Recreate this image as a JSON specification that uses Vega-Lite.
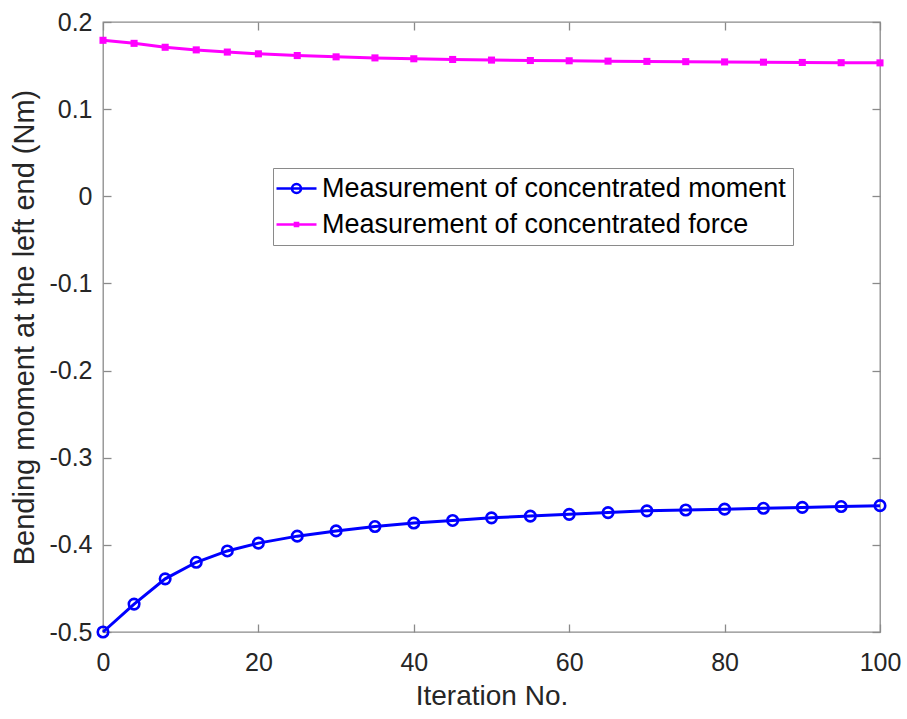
{
  "$schema": "https://vega.github.io/schema/vega-lite/v6.json",
  "width": 777,
  "height": 610,
  "autosize": {"type": "none"},
  "padding": {"left": 103, "top": 22, "right": 27, "bottom": 87},
  "background": "white",
  "config": {
    "view": {"stroke": "#8a8a8a", "strokeWidth": 1.3},
    "font": "Liberation Sans",
    "axis": {
      "domain": false,
      "grid": false,
      "tickSize": -8,
      "tickColor": "#8a8a8a",
      "tickWidth": 1.3,
      "labelFlush": false,
      "labelFont": "Liberation Sans",
      "labelFontSize": 25,
      "labelColor": "#262626",
      "titleFont": "Liberation Sans",
      "titleFontSize": 28,
      "titleFontWeight": "normal",
      "titleColor": "#262626"
    },
    "legend": {
      "title": null,
      "orient": "none",
      "legendX": 170,
      "legendY": 146,
      "direction": "vertical",
      "padding": 7,
      "strokeColor": "#8a8a8a",
      "fillColor": "white",
      "labelFont": "Liberation Sans",
      "labelFontSize": 27,
      "labelColor": "#000000",
      "labelLimit": 0,
      "rowPadding": 8,
      "symbolSize": 400,
      "symbolStrokeWidth": 2.6,
      "symbolOpacity": 1,
      "symbolOffset": 3,
      "labelOffset": 12
    }
  },
  "data": {
    "values": [
      {"it": 0, "v": -0.5, "s": "Measurement of concentrated moment"},
      {"it": 4, "v": -0.468, "s": "Measurement of concentrated moment"},
      {"it": 8, "v": -0.439, "s": "Measurement of concentrated moment"},
      {"it": 12, "v": -0.42, "s": "Measurement of concentrated moment"},
      {"it": 16, "v": -0.407, "s": "Measurement of concentrated moment"},
      {"it": 20, "v": -0.398, "s": "Measurement of concentrated moment"},
      {"it": 25, "v": -0.39, "s": "Measurement of concentrated moment"},
      {"it": 30, "v": -0.384, "s": "Measurement of concentrated moment"},
      {"it": 35, "v": -0.379, "s": "Measurement of concentrated moment"},
      {"it": 40, "v": -0.375, "s": "Measurement of concentrated moment"},
      {"it": 45, "v": -0.372, "s": "Measurement of concentrated moment"},
      {"it": 50, "v": -0.369, "s": "Measurement of concentrated moment"},
      {"it": 55, "v": -0.367, "s": "Measurement of concentrated moment"},
      {"it": 60, "v": -0.365, "s": "Measurement of concentrated moment"},
      {"it": 65, "v": -0.363, "s": "Measurement of concentrated moment"},
      {"it": 70, "v": -0.361, "s": "Measurement of concentrated moment"},
      {"it": 75, "v": -0.36, "s": "Measurement of concentrated moment"},
      {"it": 80, "v": -0.359, "s": "Measurement of concentrated moment"},
      {"it": 85, "v": -0.358, "s": "Measurement of concentrated moment"},
      {"it": 90, "v": -0.357, "s": "Measurement of concentrated moment"},
      {"it": 95, "v": -0.356, "s": "Measurement of concentrated moment"},
      {"it": 100, "v": -0.355, "s": "Measurement of concentrated moment"},
      {"it": 0, "v": 0.179, "s": "Measurement of concentrated force"},
      {"it": 4, "v": 0.1755, "s": "Measurement of concentrated force"},
      {"it": 8, "v": 0.171, "s": "Measurement of concentrated force"},
      {"it": 12, "v": 0.168, "s": "Measurement of concentrated force"},
      {"it": 16, "v": 0.1655, "s": "Measurement of concentrated force"},
      {"it": 20, "v": 0.1635, "s": "Measurement of concentrated force"},
      {"it": 25, "v": 0.1615, "s": "Measurement of concentrated force"},
      {"it": 30, "v": 0.16, "s": "Measurement of concentrated force"},
      {"it": 35, "v": 0.1588, "s": "Measurement of concentrated force"},
      {"it": 40, "v": 0.1578, "s": "Measurement of concentrated force"},
      {"it": 45, "v": 0.157, "s": "Measurement of concentrated force"},
      {"it": 50, "v": 0.1563, "s": "Measurement of concentrated force"},
      {"it": 55, "v": 0.1558, "s": "Measurement of concentrated force"},
      {"it": 60, "v": 0.1555, "s": "Measurement of concentrated force"},
      {"it": 65, "v": 0.1551, "s": "Measurement of concentrated force"},
      {"it": 70, "v": 0.1548, "s": "Measurement of concentrated force"},
      {"it": 75, "v": 0.1545, "s": "Measurement of concentrated force"},
      {"it": 80, "v": 0.1542, "s": "Measurement of concentrated force"},
      {"it": 85, "v": 0.1539, "s": "Measurement of concentrated force"},
      {"it": 90, "v": 0.1536, "s": "Measurement of concentrated force"},
      {"it": 95, "v": 0.1533, "s": "Measurement of concentrated force"},
      {"it": 100, "v": 0.1531, "s": "Measurement of concentrated force"}
    ]
  },
  "layer": [
    {
      "transform": [{"filter": "datum.it < 0"}],
      "mark": {"type": "point", "filled": false, "strokeWidth": 2.6, "size": 400, "opacity": 1},
      "encoding": {
        "x": {"field": "it", "type": "quantitative", "axis": null},
        "y": {"field": "v", "type": "quantitative", "axis": null},
        "color": {
          "field": "s",
          "type": "nominal",
          "scale": {"domain": ["Measurement of concentrated moment", "Measurement of concentrated force"], "range": ["#0000ff", "#ff00ff"]}
        },
        "shape": {
          "field": "s",
          "type": "nominal",
          "scale": {
            "domain": ["Measurement of concentrated moment", "Measurement of concentrated force"],
            "range": [
              "M-2,0H2M-0.45,0A0.45,0.45,0,1,0,0.45,0A0.45,0.45,0,1,0,-0.45,0",
              "M-2,0H2M-0.15,-0.15H0.15V0.15H-0.15Z"
            ]
          }
        }
      }
    },
    {
      "transform": [{"filter": "datum.s == 'Measurement of concentrated moment'"}],
      "mark": {"type": "line", "strokeWidth": 3, "color": "#0000ff"},
      "encoding": {
        "x": {
          "field": "it",
          "type": "quantitative",
          "scale": {"domain": [0, 100], "nice": false, "zero": false},
          "axis": {"orient": "bottom", "values": [0, 20, 40, 60, 80, 100], "labelPadding": 26, "title": "Iteration No.", "titlePadding": 7}
        },
        "y": {
          "field": "v",
          "type": "quantitative",
          "scale": {"domain": [-0.5, 0.2], "nice": false, "zero": false},
          "axis": {
            "orient": "left",
            "values": [-0.5, -0.4, -0.3, -0.2, -0.1, 0, 0.1, 0.2],
            "labelExpr": "abs(datum.value) < 1e-9 ? '0' : (datum.value < 0 ? '-' : '') + format(abs(datum.value), '.1f')",
            "labelPadding": 19,
            "title": "Bending moment at the left end (Nm)",
            "titleFontSize": 29,
            "titlePadding": 9
          }
        }
      }
    },
    {
      "transform": [{"filter": "datum.s == 'Measurement of concentrated force'"}],
      "mark": {"type": "line", "strokeWidth": 3, "color": "#ff00ff"},
      "encoding": {
        "x": {"field": "it", "type": "quantitative", "axis": null},
        "y": {"field": "v", "type": "quantitative", "axis": null}
      }
    },
    {
      "transform": [{"filter": "datum.s == 'Measurement of concentrated moment'"}],
      "mark": {"type": "point", "shape": "circle", "filled": false, "size": 110, "strokeWidth": 2.6, "opacity": 1, "color": "#0000ff"},
      "encoding": {
        "x": {"field": "it", "type": "quantitative", "axis": null},
        "y": {"field": "v", "type": "quantitative", "axis": null}
      }
    },
    {
      "transform": [{"filter": "datum.s == 'Measurement of concentrated force'"}],
      "mark": {"type": "point", "shape": "square", "filled": true, "size": 50, "opacity": 1, "color": "#ff00ff"},
      "encoding": {
        "x": {"field": "it", "type": "quantitative", "axis": null},
        "y": {"field": "v", "type": "quantitative", "axis": null}
      }
    },
    {
      "mark": {"type": "point", "opacity": 0},
      "encoding": {
        "x": {"field": "it", "type": "quantitative", "axis": {"orient": "top", "values": [0, 20, 40, 60, 80, 100], "labels": false, "title": null}},
        "y": {"field": "v", "type": "quantitative", "axis": {"orient": "right", "values": [-0.5, -0.4, -0.3, -0.2, -0.1, 0, 0.1, 0.2], "labels": false, "title": null}}
      }
    }
  ],
  "resolve": {"axis": {"x": "independent", "y": "independent"}}
}
